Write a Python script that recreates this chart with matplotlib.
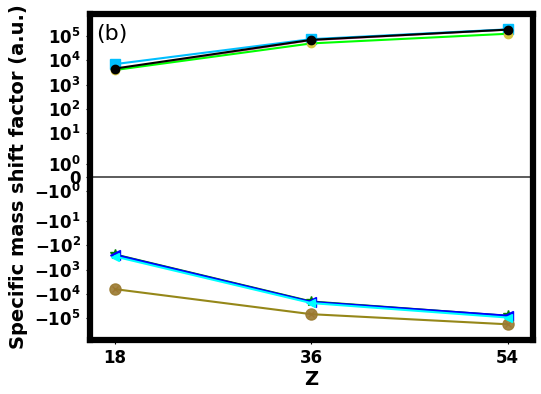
import matplotlib
matplotlib.use("Agg")
import matplotlib.pyplot as plt

plt.rcParams['font.family'] = ['DejaVu Sans']
plt.rcParams['font.weight'] = 'bold'

# atomic number on the x axis
z_vals = [18, 36, 54]

# positive branch (a.u.)
pink_pos = [4.2e3, 6.8e4, 1.85e5]
blue_sq = [7.0e3, 7.5e4, 1.9e5]
black_circ = [4.6e3, 7.0e4, 1.85e5]
green_yel = [4.0e3, 5.0e4, 1.25e5]

# negative branch (a.u.)
green_star = [-2.3e2, -2.0e4, -7.8e4]
blue_tri = [-2.5e2, -2.2e4, -8.1e4]
cyan_tri = [-2.9e2, -2.4e4, -9.5e4]
olive_circ = [-6.4e3, -6.9e4, -1.8e5]

ytick_vals = [1e5, 1e4, 1e3, 1e2, 1e1, 1, 0, -1, -1e1, -1e2, -1e3, -1e4, -1e5]
ytick_labels = [r'$\mathbf{10^{5}}$', r'$\mathbf{10^{4}}$', r'$\mathbf{10^{3}}$',
                r'$\mathbf{10^{2}}$', r'$\mathbf{10^{1}}$', r'$\mathbf{10^{0}}$', '0',
                r'$\mathbf{-10^{0}}$', r'$\mathbf{-10^{1}}$', r'$\mathbf{-10^{2}}$',
                r'$\mathbf{-10^{3}}$', r'$\mathbf{-10^{4}}$', r'$\mathbf{-10^{5}}$']

fig = plt.figure(figsize=(5.41, 3.94), dpi=100)
ax = fig.add_axes([0.166, 0.137, 0.819, 0.827])

ax.axhline(0, color='#404040', linewidth=1.2, zorder=1)

# upper curves
ax.plot(z_vals, pink_pos, color='hotpink', marker='^', markersize=5, linewidth=1.5, zorder=2)
ax.plot(z_vals, blue_sq, color='deepskyblue', marker='s', markersize=7, linewidth=1.5, zorder=3)
ax.plot(z_vals, green_yel, color='lime', marker='o', markersize=6, markerfacecolor='#d4c640',
        markeredgecolor='#d4c640', linewidth=1.5, zorder=3)
ax.plot(z_vals, black_circ, color='black', marker='o', markersize=6, linewidth=1.5, zorder=4)

# lower curves
ax.plot(z_vals, green_star, color='green', marker='*', markersize=7, linewidth=1.0, zorder=2)
ax.plot(z_vals, blue_tri, color='blue', marker='<', markersize=7, linewidth=1.8, zorder=3)
ax.plot(z_vals, cyan_tri, color='cyan', marker='<', markersize=6, linewidth=1.5, zorder=4)
ax.plot(z_vals, olive_circ, color='indianred', marker='x', markersize=5, linewidth=0, zorder=2)
ax.plot(z_vals, olive_circ, color='#8a7a00', marker='o', markersize=8, markerfacecolor='#9a7a30',
        markeredgecolor='#9a7a30', alpha=0.9, linewidth=1.5, zorder=3)

ax.set_yscale('symlog', linthresh=2)
ax.set_ylim(-8e5, 8e5)
ax.set_xlim(15.7, 56.3)
ax.set_yticks(ytick_vals)
ax.set_yticklabels(ytick_labels)
ax.yaxis.set_minor_locator(matplotlib.ticker.NullLocator())
ax.set_xticks(z_vals)
ax.set_xticklabels([str(z) for z in z_vals])
ax.tick_params(labelsize=12, length=3, width=0.8)

for spine in ax.spines.values():
    spine.set_linewidth(4.5)

ax.set_xlabel('Z', fontsize=14, fontweight='bold', labelpad=2)
ax.set_ylabel('Specific mass shift factor (a.u.)', fontsize=14, fontweight='bold', labelpad=4)
ax.text(0.015, 0.92, '(b)', transform=ax.transAxes, fontsize=16, fontweight='normal')

fig.savefig('out.png', dpi=100)
